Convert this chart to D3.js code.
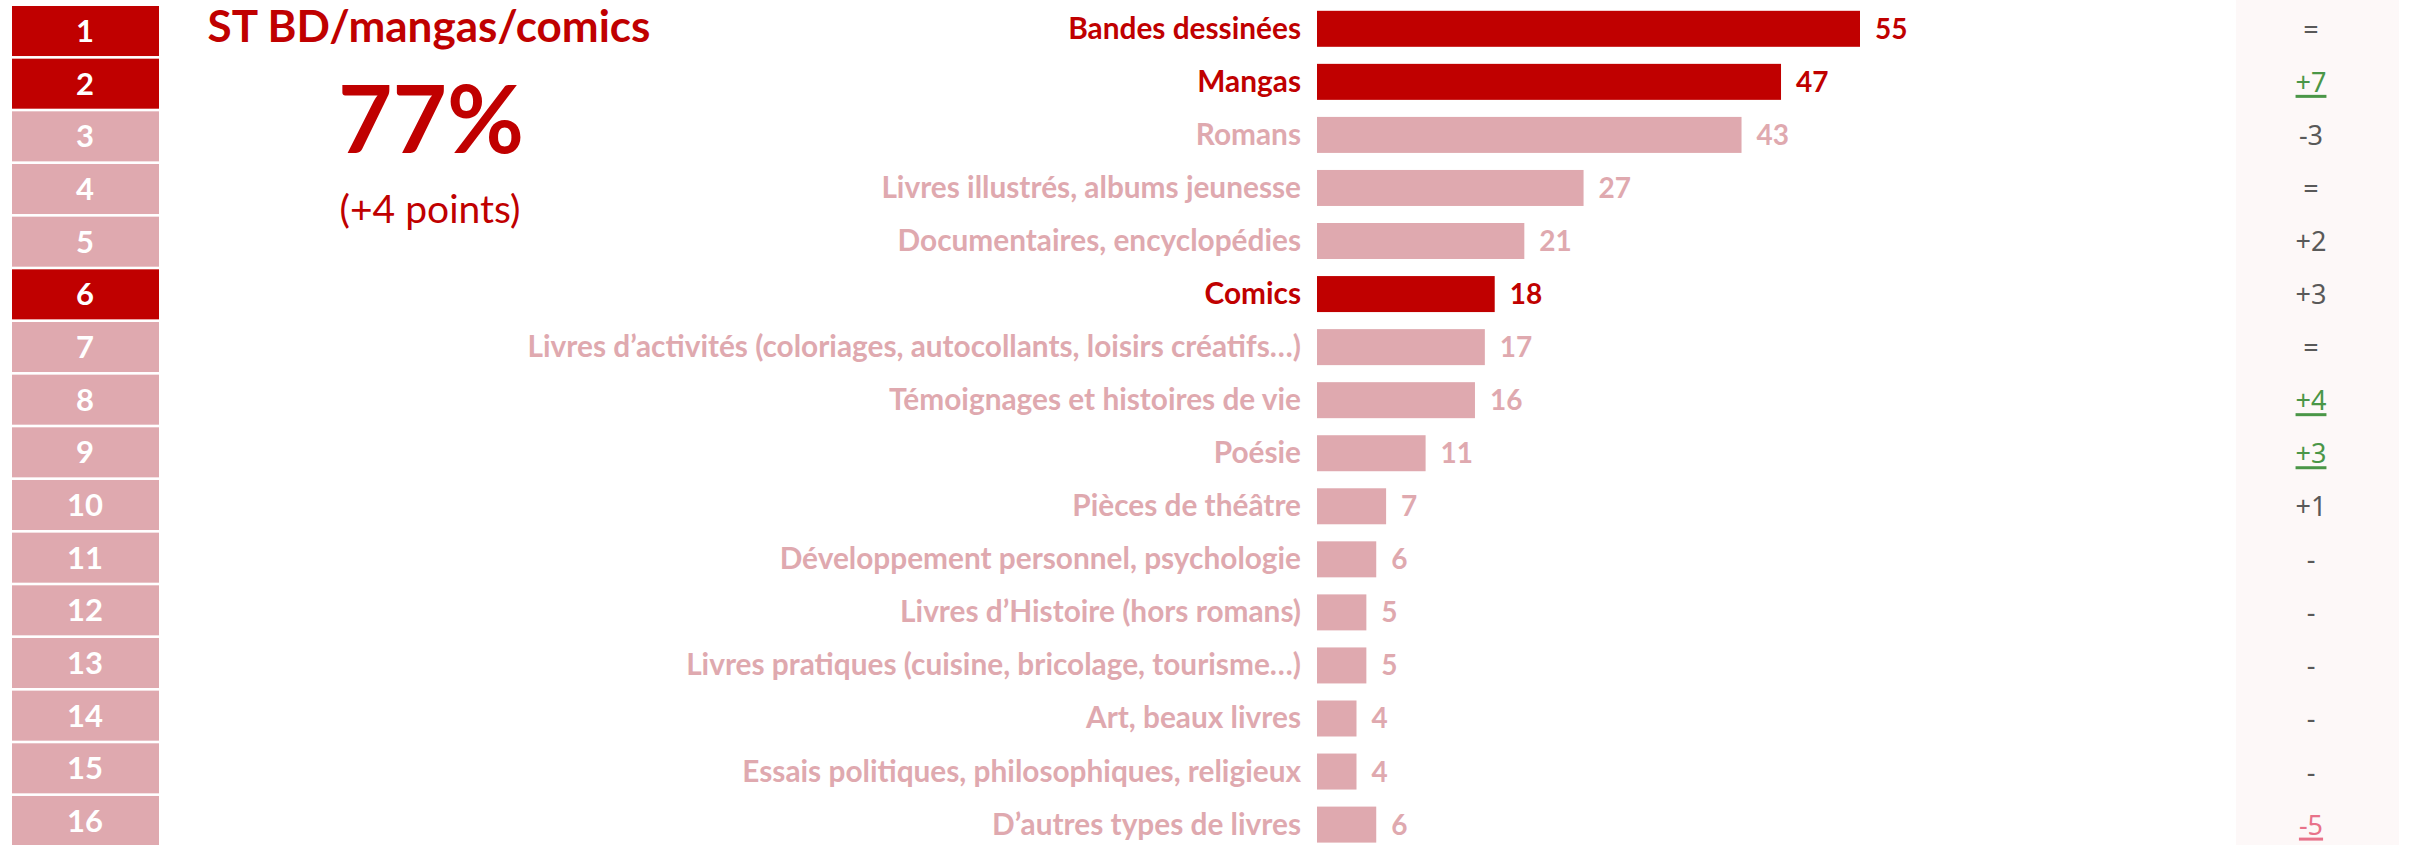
<!DOCTYPE html>
<html>
<head>
<meta charset="utf-8">
<script src="https://cdn.jsdelivr.net/npm/d3@7"></script>
<style>
  html, body { margin: 0; padding: 0; background: #fff; }
  svg { display: block; }
</style>
</head>
<body>
<svg id="viz"></svg>
<script>
// Book types read - ranking chart

const ranks = ["1", "2", "3", "4", "5", "6", "7", "8", "9", "10", "11", "12", "13", "14", "15", "16"];
const categories = [
  "Bandes dessinées",
  "Mangas",
  "Romans",
  "Livres illustrés, albums jeunesse",
  "Documentaires, encyclopédies",
  "Comics",
  "Livres d’activités (coloriages, autocollants, loisirs créatifs…)",
  "Témoignages et histoires de vie",
  "Poésie",
  "Pièces de théâtre",
  "Développement personnel, psychologie",
  "Livres d’Histoire (hors romans)",
  "Livres pratiques (cuisine, bricolage, tourisme…)",
  "Art, beaux livres",
  "Essais politiques, philosophiques, religieux",
  "D’autres types de livres"
];
const values = [55, 47, 43, 27, 21, 18, 17, 16, 11, 7, 6, 5, 5, 4, 4, 6];
const highlighted = ["Bandes dessinées", "Mangas", "Comics"];
const evolutions = ["=", "+7", "-3", "=", "+2", "+3", "=", "+4", "+3", "+1", "-", "-", "-", "-", "-", "-5"];
// significant changes: up / down / none
const evoStatus = ["", "up", "", "", "", "", "", "up", "up", "", "", "", "", "", "", "down"];

const headline = "ST BD/mangas/comics";
const bigNumber = "77%";
const bigNumberNote = "(+4 points)";

const width = 2420, height = 845;
const DARK = "#c00000", LIGHT = "#dfa9af";
const GREY = "#595959", GREEN = "#4a9647", PINK = "#e8728a";
const FONT = "Lato, 'Open Sans', sans-serif";

const svg = d3.select("#viz")
  .attr("width", width)
  .attr("height", height)
  .style("font-family", FONT);

const isHi = d => highlighted.includes(d);

// Rank boxes on the left
const yRank = d3.scaleBand()
  .domain(ranks)
  .range([6, 846])
  .paddingInner(0.05)
  .paddingOuter(0);

const rankG = svg.append("g").attr("class", "ranks");
rankG.selectAll("rect")
  .data(ranks)
  .enter()
  .append("rect")
  .attr("x", 12)
  .attr("y", d => yRank(d))
  .attr("width", 147)
  .attr("height", yRank.bandwidth())
  .attr("fill", (d, i) => isHi(categories[i]) ? DARK : LIGHT);

rankG.selectAll("text")
  .data(ranks)
  .enter()
  .append("text")
  .attr("x", 85)
  .attr("y", d => yRank(d) + yRank.bandwidth() / 2 + 11)
  .attr("text-anchor", "middle")
  .attr("fill", "#fff")
  .style("font-weight", 700)
  .style("font-size", "31px")
  .text(d => d);

// Headline block
const head = svg.append("g").attr("class", "headline").attr("fill", DARK);
head.append("text")
  .attr("x", 429).attr("y", 42)
  .attr("text-anchor", "middle")
  .style("font-weight", 700)
  .style("font-size", "44px")
  .text(headline);
head.append("text")
  .attr("x", 431).attr("y", 153)
  .attr("text-anchor", "middle")
  .style("font-weight", 700)
  .style("font-size", "94px")
  .text(bigNumber);
head.append("text")
  .attr("x", 430).attr("y", 223)
  .attr("text-anchor", "middle")
  .style("font-weight", 400)
  .style("font-size", "39px")
  .text(bigNumberNote);

// Bars
const x = d3.scaleLinear().domain([0, 55]).range([1317, 1860]);
const y = d3.scaleBand()
  .domain(categories)
  .range([10.8, 842.6])
  .paddingInner(0.3214)
  .paddingOuter(0);

const rows = categories.map((c, i) => ({ cat: c, value: values[i], evo: evolutions[i], status: evoStatus[i] }));

const barG = svg.append("g").attr("class", "bars");
barG.selectAll("rect")
  .data(rows)
  .enter()
  .append("rect")
  .attr("x", x(0))
  .attr("y", d => y(d.cat))
  .attr("width", d => x(d.value) - x(0))
  .attr("height", y.bandwidth())
  .attr("fill", d => isHi(d.cat) ? DARK : LIGHT);

// Category labels
barG.selectAll(".cat-label")
  .data(rows)
  .enter()
  .append("text")
  .attr("class", "cat-label")
  .attr("x", x(0) - 16)
  .attr("y", d => y(d.cat) + y.bandwidth() / 2 + 10)
  .attr("text-anchor", "end")
  .attr("fill", d => isHi(d.cat) ? DARK : LIGHT)
  .style("font-weight", 700)
  .style("font-size", "29.8px")
  .text(d => d.cat);

// Value labels
barG.selectAll(".val-label")
  .data(rows)
  .enter()
  .append("text")
  .attr("class", "val-label")
  .attr("x", d => x(d.value) + 15)
  .attr("y", d => y(d.cat) + y.bandwidth() / 2 + 10)
  .attr("fill", d => isHi(d.cat) ? DARK : LIGHT)
  .style("font-weight", 700)
  .style("font-size", "28px")
  .text(d => d.value);

// Evolution column
const evoG = svg.append("g").attr("class", "evolution");
evoG.append("rect")
  .attr("x", 2236).attr("y", 0)
  .attr("width", 163).attr("height", height)
  .attr("fill", "#fdf8f8");

const evoColor = s => s === "up" ? GREEN : s === "down" ? PINK : GREY;

const evoText = evoG.selectAll("text")
  .data(rows)
  .enter()
  .append("text")
  .attr("x", 2311)
  .attr("y", d => y(d.cat) + y.bandwidth() / 2 + 10)
  .attr("text-anchor", "middle")
  .attr("fill", d => evoColor(d.status))
  .style("font-family", "'Noto Sans', sans-serif")
  .style("font-size", "27px")
  .text(d => d.evo);

// thick underline under significant changes
evoText.filter(d => d.status).each(function(d) {
  const b = this.getBBox();
  const base = y(d.cat) + y.bandwidth() / 2 + 10;
  evoG.append("rect")
    .attr("x", b.x)
    .attr("y", base + 3)
    .attr("width", b.width)
    .attr("height", 3)
    .attr("fill", evoColor(d.status));
});
</script>
</body>
</html>
